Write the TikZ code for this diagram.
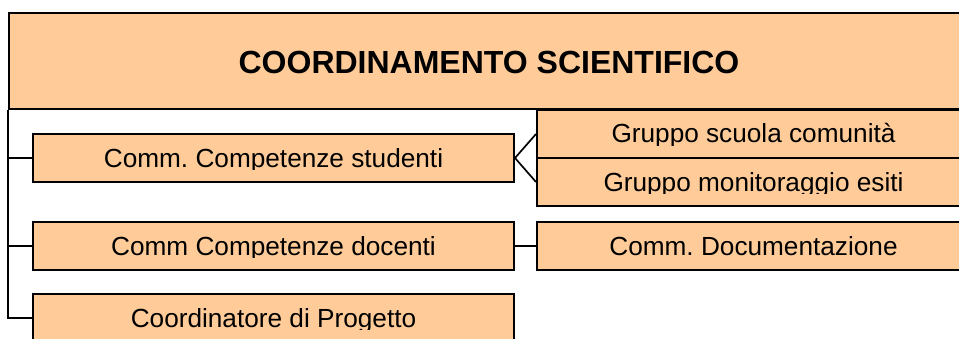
\documentclass[tikz,border=0pt]{standalone}
\usepackage{fontspec}
\setmainfont{Liberation Sans}
\frenchspacing
\definecolor{peach}{RGB}{255,204,153}
\tikzset{
  box/.style={draw=black, fill=peach, line width=2pt, inner sep=0pt, anchor=north west},
  smallbox/.style={box, minimum height=48pt},
  lbl/.style={anchor=base, inner sep=0pt, font=\fontsize{26.2}{30}\selectfont\frenchspacing},
  conn/.style={draw=black, line width=1.7pt},
}
\newcommand{\boxlabel}[2]{%
  \begin{scope}
    \clip ([yshift=-36.7pt]#1.north west) rectangle (#1.north east);
    \node[lbl] (#1-t) at ([yshift=-34pt]#1.north) {#2};
  \end{scope}}
\begin{document}
\begin{tikzpicture}[x=1pt,y=1pt]
\useasboundingbox (0,0) rectangle (959,338);
% boxes
\node[box, minimum width=960pt, minimum height=96pt] (top) at (8,326) {};
\node[smallbox, minimum width=481pt] (b1) at (32,205) {};
\node[smallbox, minimum width=481pt] (b2) at (32,117) {};
\node[smallbox, minimum width=481pt] (b3) at (32,45) {};
\node[smallbox, minimum width=433pt] (gs) at (536,229) {};
\node[smallbox, minimum width=433pt] (gm) at (536,181) {};
\node[smallbox, minimum width=433pt] (doc) at (536,117) {};
% title
\node[anchor=base, inner sep=0pt, font=\bfseries\fontsize{32}{38}\selectfont] (title)
  at ([yshift=-12.3pt]top.center) {COORDINAMENTO SCIENTIFICO};
% labels
\boxlabel{b1}{Comm. Competenze studenti}
\boxlabel{b2}{Comm Competenze docenti}
\boxlabel{b3}{Coordinatore di Progetto}
\boxlabel{gs}{Gruppo scuola comunità}
\boxlabel{gm}{Gruppo monitoraggio esiti}
\boxlabel{doc}{Comm. Documentazione}
% connectors
\draw[conn] (top.south west) -- (top.south west |- b3.west) -- (b3.west);
\draw[conn] (top.south west |- b1.west) -- (b1.west);
\draw[conn] (top.south west |- b2.west) -- (b2.west);
\draw[conn] (gs.west) -- (b1.east) -- (gm.west);
\draw[conn] (b2.east) -- (doc.west);
\end{tikzpicture}
\end{document}
